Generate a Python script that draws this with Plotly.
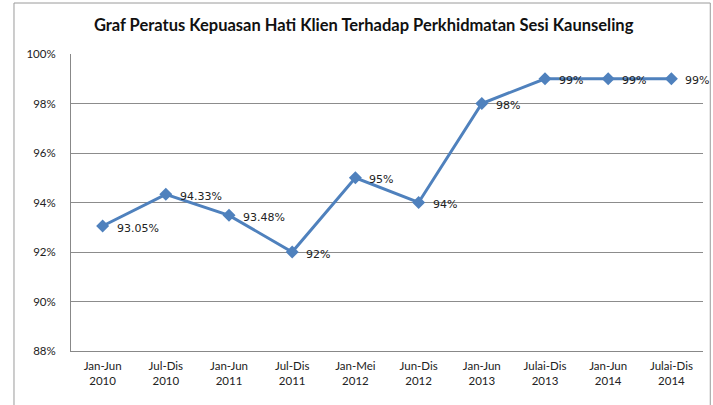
import plotly.graph_objects as go

categories = ["Jan-Jun<br>2010", "Jul-Dis<br>2010", "Jan-Jun<br>2011", "Jul-Dis<br>2011",
              "Jan-Mei<br>2012", "Jun-Dis<br>2012", "Jan-Jun<br>2013", "Julai-Dis<br>2013",
              "Jan-Jun<br>2014", "Julai-Dis<br>2014"]
values = [93.05, 94.33, 93.48, 92, 95, 94, 98, 99, 99, 99]
labels = ["93.05%", "94.33%", "93.48%", "92%", "95%", "94%", "98%", "99%", "99%", "99%"]
y_ticks = [88, 90, 92, 94, 96, 98, 100]
y_tick_labels = ["88%", "90%", "92%", "94%", "96%", "98%", "100%"]

color = "#4F81BD"
fig = go.Figure()
fig.add_trace(go.Scatter(
    x=list(range(len(categories))), y=values, mode="lines+markers",
    line=dict(color=color, width=3),
    marker=dict(symbol="diamond", size=10, color=color),
    hoverinfo="skip", showlegend=False,
))
for i, (v, t) in enumerate(zip(values, labels)):
    fig.add_annotation(x=i, y=v, text=t, showarrow=False, xanchor="left", yanchor="middle",
                       xshift=12, yshift=-2,
                       font=dict(family="DejaVu Sans", size=11, color="#222222"))

fig.update_layout(
    width=713, height=405,
    margin=dict(l=71, r=10, t=54, b=54),
    paper_bgcolor="white", plot_bgcolor="white",
    title=dict(text="<b>Graf Peratus Kepuasan Hati Klien Terhadap Perkhidmatan Sesi Kaunseling</b>",
               x=0.51, xanchor="center", y=0.938, yanchor="middle",
               font=dict(family="Lato", size=16.5, color="#111111")),
    xaxis=dict(range=[-0.5, 9.5], tickmode="array", tickvals=list(range(len(categories))),
               ticktext=categories, showgrid=False, showline=True, linecolor="#888888",
               linewidth=1, ticks="", ticklabelstandoff=4,
               tickfont=dict(family="Lato", size=11.5, color="#222222"),
               zeroline=False, fixedrange=True),
    yaxis=dict(range=[88, 100], tickmode="array", tickvals=y_ticks, ticktext=y_tick_labels,
               showgrid=True, gridcolor="#8c8c8c", gridwidth=1, showline=True,
               linecolor="#888888", ticks="", ticklen=0, ticklabelstandoff=12,
               tickfont=dict(family="Lato", size=11.5, color="#222222"), zeroline=False),
    shapes=[dict(type="rect", xref="paper", yref="paper", x0=-0.0902, x1=1.0115,
                 y0=-0.3, y1=1.1717, line=dict(color="#9a9a9a", width=1))],
)
fig.write_html("out.html", config={"displayModeBar": False, "staticPlot": True},
               post_script="document.body.style.margin='0';document.body.style.padding='0';")
